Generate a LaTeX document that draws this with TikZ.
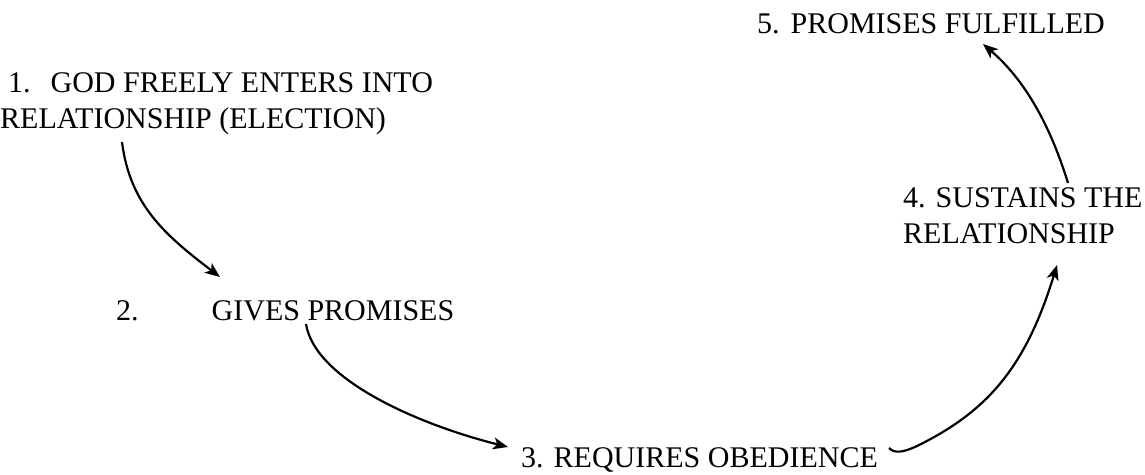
\documentclass[tikz,border=0pt]{standalone}
\usepackage{fontspec}
\setmainfont{Liberation Serif}
\usetikzlibrary{arrows.meta}
\begin{document}
\begin{tikzpicture}[x=1pt,y=-1pt,
  steptext/.style={anchor=base west, inner sep=0pt, font=\fontsize{30}{36}\selectfont},
  flow/.style={line width=2.2pt, -{Stealth[length=15pt,width=12pt,inset=4pt]}}]
\useasboundingbox (0,0) rectangle (1145,474);

% the five stages of the covenant cycle
\node[steptext] (n1) at (0,92) {\begin{tabular}[t]{@{}l@{}}\hspace*{8pt}1.\hspace{20pt}GOD FREELY ENTERS INTO\\RELATIONSHIP (ELECTION)\end{tabular}};
\node[steptext] (n2) at (116,320) {2.\hspace{73pt}GIVES PROMISES};
\node[steptext] (n3) at (521,467) {3. REQUIRES OBEDIENCE};
\node[steptext] (n4) at (903,207) {\begin{tabular}[t]{@{}l@{}}4. SUSTAINS THE\\RELATIONSHIP\end{tabular}};
\node[steptext] (n5) at (757,33) {5.\hspace{11pt}PROMISES FULFILLED};

% curved connectors between the stages
\draw[flow] ([shift={(122,50)}]n1.base west) .. controls (130,205) and (165,235) .. ([shift={(104,-43)}]n2.base west);
\draw[flow] ([shift={(190,4)}]n2.base west) .. controls (315,380) and (420,425) .. ([shift={(-13,-20)}]n3.base west);
\draw[flow] ([shift={(368,-19)}]n3.base west) .. controls (895,454) and (903,452) .. (915,447)
  .. controls (985,413) and (1025,370) .. ([shift={(154,58)}]n4.base west);
\draw[flow] ([shift={(165,-24)}]n4.base west) .. controls (1050,125) and (1025,80) .. ([shift={(226,11)}]n5.base west);
\end{tikzpicture}
\end{document}
